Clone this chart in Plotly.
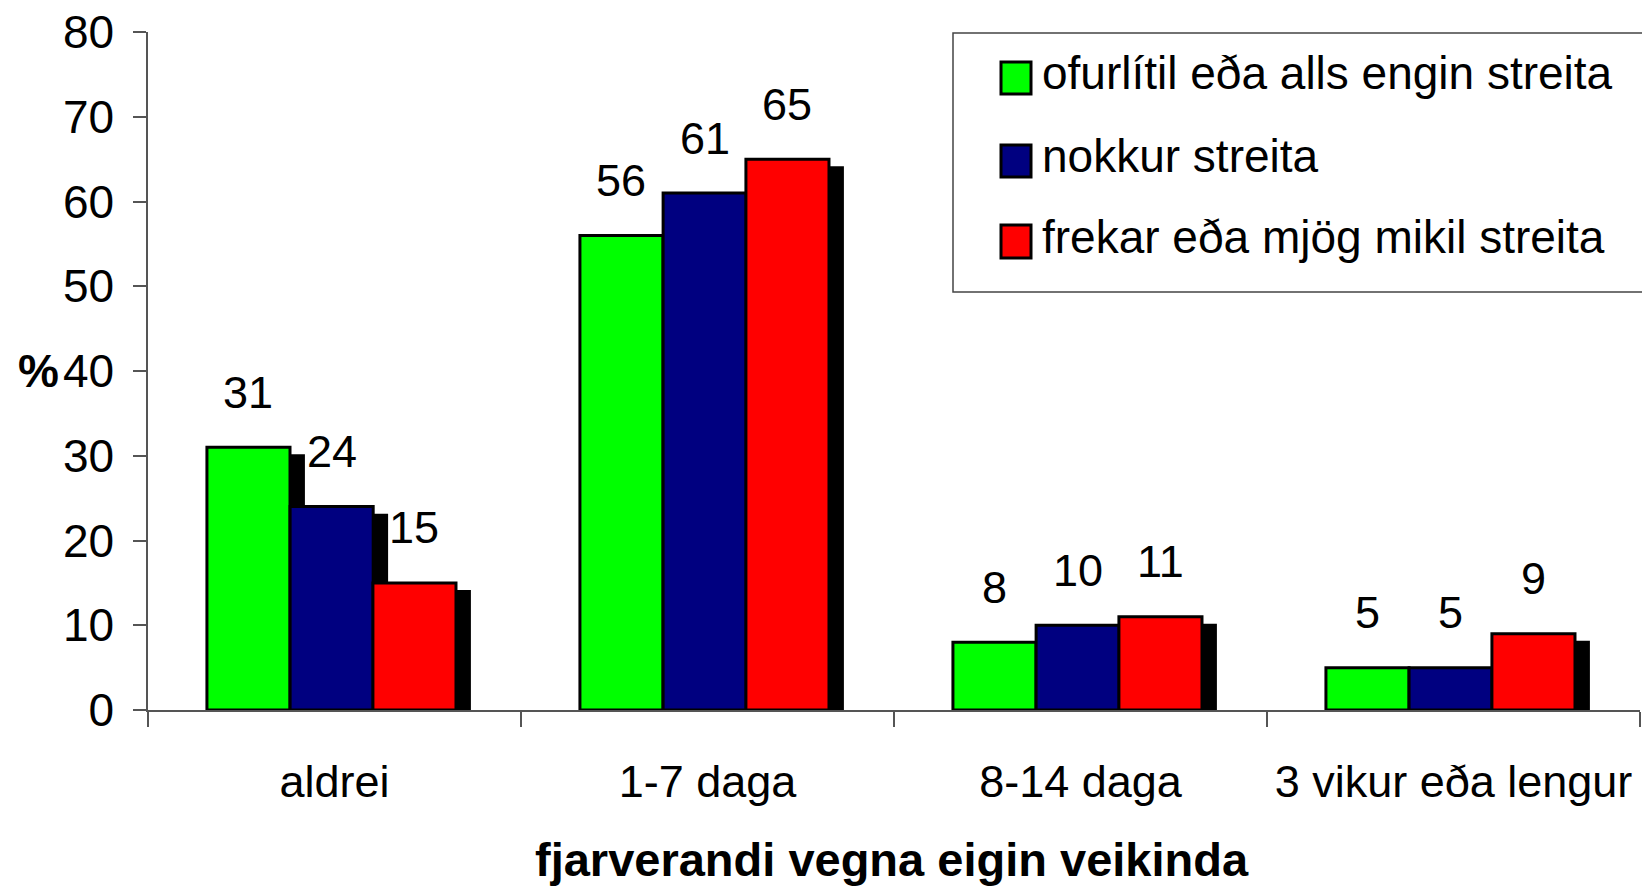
import plotly.graph_objects as go

# ---- data ----
categories = ["aldrei", "1-7 daga", "8-14 daga", "3 vikur eða lengur"]
series_names = ["ofurlítil eða alls engin streita", "nokkur streita", "frekar eða mjög mikil streita"]
green_values = [31, 56, 8, 5]
blue_values = [24, 61, 10, 5]
red_values = [15, 65, 11, 9]
y_tick_values = [0, 10, 20, 30, 40, 50, 60, 70, 80]
x_title = "fjarverandi vegna eigin veikinda"
y_title = "%"

# ---- styles ----
colors = ["#00FF00", "#000080", "#FF0000"]
FONT = "Arial, 'Liberation Sans', sans-serif"
PAGE_OFF = 8                      # default body margin of the html page
W, H = 1650 - PAGE_OFF, 888 - PAGE_OFF
L, R, T, B = 148 - PAGE_OFF, 10, 32 - PAGE_OFF, 178
PW, PH = W - L - R, H - T - B
bar_w = 0.2227
offsets = [-0.342, -0.119, 0.103]
shadow_dx = 0.040   # category units (~15 px)
shadow_dy = 0.83    # value units (~7 px)
axis_col = "#555555"


def px_x(p):
    """page pixel x -> paper coordinate"""
    return (p - PAGE_OFF - L) / PW


def px_y(p):
    """page pixel y -> paper coordinate"""
    return (H - B - (p - PAGE_OFF)) / PH


series = [green_values, blue_values, red_values]

fig = go.Figure()
# shadows first
for vals, off in zip(series, offsets):
    fig.add_trace(go.Bar(
        x=categories, y=[v - shadow_dy for v in vals],
        offset=off + shadow_dx, width=bar_w,
        marker=dict(color="black", line=dict(width=0)),
        showlegend=False, hoverinfo="skip",
    ))
# bars
for name, vals, off, col in zip(series_names, series, offsets, colors):
    fig.add_trace(go.Bar(
        name=name, x=categories, y=vals,
        offset=off, width=bar_w,
        marker=dict(color=col, line=dict(color="black", width=3)),
        showlegend=False,
    ))

annotations = []
# data labels
for vals, off in zip(series, offsets):
    for i, v in enumerate(vals):
        annotations.append(dict(
            x=i + off + bar_w / 2, y=v, xref="x", yref="y",
            text=str(v), showarrow=False, yanchor="middle", xanchor="center",
            yshift=55, font=dict(family=FONT, size=45, color="black"),
        ))

# axis titles
annotations.append(dict(
    x=px_x(892), y=px_y(859), xref="paper", yref="paper", text="<b>" + x_title + "</b>",
    showarrow=False, xanchor="center", yanchor="middle",
    font=dict(family=FONT, size=47, color="black"),
))
annotations.append(dict(
    x=px_x(38.5), y=40, xref="paper", yref="y", text="<b>" + y_title + "</b>",
    showarrow=False, xanchor="center", yanchor="middle",
    font=dict(family=FONT, size=46, color="black"),
))

# manual legend
shapes = [dict(
    type="rect", xref="paper", yref="paper",
    x0=px_x(953), x1=px_x(1647), y0=px_y(292), y1=px_y(33),
    line=dict(color="#444444", width=1.5), fillcolor="white", layer="below",
)]
row_boxes = [(62, 94), (145, 177), (225, 258)]
for (y0, y1), name, col in zip(row_boxes, series_names, colors):
    shapes.append(dict(
        type="rect", xref="paper", yref="paper",
        x0=px_x(1001), x1=px_x(1031), y0=px_y(y1), y1=px_y(y0),
        line=dict(color="black", width=3), fillcolor=col,
    ))
    annotations.append(dict(
        x=px_x(1040), y=px_y((y0 + y1) / 2 - 5), xref="paper", yref="paper",
        text=name, showarrow=False, xanchor="left", yanchor="middle",
        font=dict(family=FONT, size=46, color="black"),
    ))

fig.update_layout(
    template="none",
    width=W, height=H,
    margin=dict(l=L, r=R, t=T, b=B, pad=0, autoexpand=False),
    paper_bgcolor="white", plot_bgcolor="white",
    barmode="overlay",
    showlegend=False,
    font=dict(family=FONT, color="black"),
    annotations=annotations,
    shapes=shapes,
    xaxis=dict(
        type="category", range=[-0.5, 3.5], automargin=False,
        tickson="boundaries", ticks="outside", ticklen=15, tickwidth=1.5, tickcolor=axis_col,
        showline=True, linecolor=axis_col, linewidth=1.5,
        showgrid=False, zeroline=False,
        tickfont=dict(family=FONT, size=45, color="black"),
        ticklabelstandoff=31, ticklabeloverflow="allow",
    ),
    yaxis=dict(
        range=[0, 80], tickvals=y_tick_values, automargin=False,
        ticks="outside", ticklen=13, tickwidth=1.5, tickcolor=axis_col,
        showline=True, linecolor=axis_col, linewidth=1.5,
        showgrid=False, zeroline=False,
        tickfont=dict(family=FONT, size=46, color="black"),
        ticklabelstandoff=10, ticklabeloverflow="allow",
    ),
)

fig.write_html("out.html")
